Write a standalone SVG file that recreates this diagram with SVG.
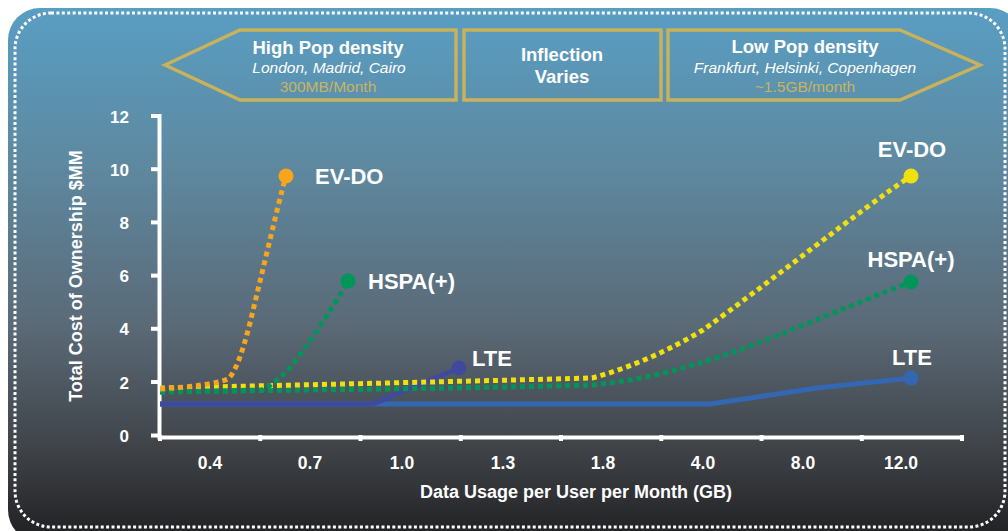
<svg xmlns="http://www.w3.org/2000/svg" width="1008" height="531" viewBox="0 0 1008 531">
  <defs>
    <linearGradient id="bg" x1="0" y1="0" x2="0" y2="1">
      <stop offset="0" stop-color="#599ec3"/>
      <stop offset="0.3" stop-color="#5e889f"/>
      <stop offset="0.6" stop-color="#5a6976"/>
      <stop offset="0.82" stop-color="#404449"/>
      <stop offset="1" stop-color="#1f1f21"/>
    </linearGradient>
    <style>
      text { font-family: "Liberation Sans", Arial, sans-serif; fill: #ffffff; }
      .hdr { font-size: 18.5px; font-weight: bold; text-anchor: middle; }
      .city { font-size: 15.5px; font-style: italic; text-anchor: middle; }
      .rate { font-size: 15.5px; fill: #c9b45e; text-anchor: middle; }
      .band { fill: none; stroke: #c8b25a; stroke-width: 3.5; stroke-linejoin: miter; }
      .ytick { font-size: 17px; font-weight: bold; text-anchor: end; }
      .xtick { font-size: 17.5px; font-weight: bold; text-anchor: middle; }
      .title { font-size: 18px; font-weight: bold; text-anchor: middle; }
      .series { font-size: 22px; font-weight: bold; }
      .axis { stroke: #ffffff; stroke-width: 4; fill: none; }
      .tick { stroke: #ffffff; stroke-width: 4; }
      .dots { fill: none; stroke-width: 5; stroke-dasharray: 5 4; stroke-linejoin: round; }
      .solid { fill: none; stroke-width: 5; stroke-linejoin: round; }
    </style>
  </defs>

  <!-- panel background -->
  <rect x="0" y="0" width="1008" height="531" fill="#ffffff"/>
  <rect x="8" y="8" width="1014" height="534" rx="32" fill="url(#bg)"/>
  <rect x="15" y="13" width="990" height="514" rx="36" fill="none" stroke="#ffffff" stroke-width="3" stroke-dasharray="3 2.4"/>

  <!-- density bands -->
  <g id="band-high">
    <polygon class="band" points="165,65 240,30 456,30 456,100 240,100"/>
    <text class="hdr" x="328" y="54">High Pop density</text>
    <text class="city" x="329" y="73">London, Madrid, Cairo</text>
    <text class="rate" x="328" y="92">300MB/Month</text>
  </g>
  <g id="band-mid">
    <rect class="band" x="464" y="30" width="197" height="70"/>
    <text class="hdr" x="562" y="61">Inflection</text>
    <text class="hdr" x="562" y="83">Varies</text>
  </g>
  <g id="band-low">
    <polygon class="band" points="668,30 900,30 980,65 900,100 668,100"/>
    <text class="hdr" x="805" y="53">Low Pop density</text>
    <text class="city" x="805" y="73">Frankfurt, Helsinki, Copenhagen</text>
    <text class="rate" x="805" y="92">~1.5GB/month</text>
  </g>

  <!-- axes -->
  <g id="axes">
    <path class="axis" d="M159.5,114 V437.5 H963"/>
    <g class="tick">
      <line x1="151" y1="116" x2="160" y2="116"/>
      <line x1="151" y1="169.2" x2="160" y2="169.2"/>
      <line x1="151" y1="222.4" x2="160" y2="222.4"/>
      <line x1="151" y1="275.6" x2="160" y2="275.6"/>
      <line x1="151" y1="328.8" x2="160" y2="328.8"/>
      <line x1="151" y1="382" x2="160" y2="382"/>
      <line x1="151" y1="435.5" x2="160" y2="435.5"/>
      <line x1="160" y1="435" x2="160" y2="441"/>
      <line x1="260.3" y1="435" x2="260.3" y2="441"/>
      <line x1="360.5" y1="435" x2="360.5" y2="441"/>
      <line x1="460.8" y1="435" x2="460.8" y2="441"/>
      <line x1="561" y1="435" x2="561" y2="441"/>
      <line x1="661.3" y1="435" x2="661.3" y2="441"/>
      <line x1="761.5" y1="435" x2="761.5" y2="441"/>
      <line x1="861.8" y1="435" x2="861.8" y2="441"/>
      <line x1="962" y1="435" x2="962" y2="441"/>
    </g>
    <text class="ytick" x="129" y="123">12</text>
    <text class="ytick" x="129" y="176">10</text>
    <text class="ytick" x="129" y="229">8</text>
    <text class="ytick" x="129" y="282">6</text>
    <text class="ytick" x="129" y="335">4</text>
    <text class="ytick" x="129" y="389">2</text>
    <text class="ytick" x="129" y="442">0</text>
    <text class="xtick" x="210" y="469">0.4</text>
    <text class="xtick" x="310" y="469">0.7</text>
    <text class="xtick" x="402" y="469">1.0</text>
    <text class="xtick" x="503" y="469">1.3</text>
    <text class="xtick" x="603" y="469">1.8</text>
    <text class="xtick" x="703" y="469">4.0</text>
    <text class="xtick" x="803" y="469">8.0</text>
    <text class="xtick" x="901" y="469">12.0</text>
    <text class="title" x="576" y="498">Data Usage per User per Month (GB)</text>
    <text class="title" transform="translate(82,276) rotate(-90)">Total Cost of Ownership $MM</text>
  </g>

  <!-- cost curves -->
  <g id="connectors">
    <path id="lte-low" class="solid" stroke="#3467b2" d="M160,404 L710,404 L817,388 L911,378"/>
    <path id="lte-high" class="solid" stroke="#3f4a9f" d="M160,404 L373,404 L459,368"/>
    <path id="hspa-low" class="dots" stroke="#00965a" d="M160,392 C300,390 480,388 592,385 C640,380 670,372 700,363 C760,345 850,305 911,282"/>
    <path id="evdo-low" class="dots" stroke="#f0e10c" d="M160,388 C300,385 480,381 592,378 C630,368 670,350 703,330 C770,282 860,210 911,176"/>
    <path id="hspa-high" class="dots" stroke="#00965a" d="M160,392 L262,390 C270,386 278,380 288,370 C305,350 330,312 348,281"/>
    <path id="evdo-high" class="dots" stroke="#f7a51c" d="M160,389 C190,387 215,384 228,379 C236,372 243,350 250,323 L268,248 C276,215 281,193 286,176"/>
  </g>

  <!-- series end points -->
  <g id="evdo-high-end">
    <circle cx="286" cy="176" r="7.5" fill="#f7a51c"/>
    <text class="series" x="315" y="184">EV-DO</text>
  </g>
  <g id="hspa-high-end">
    <circle cx="348" cy="281" r="7.5" fill="#00965a"/>
    <text class="series" x="368" y="289">HSPA(+)</text>
  </g>
  <g id="lte-high-end">
    <circle cx="459" cy="368" r="7.5" fill="#3f4a9f"/>
    <text class="series" x="472" y="366">LTE</text>
  </g>
  <g id="evdo-low-end">
    <circle cx="911" cy="176" r="7.5" fill="#f0e10c"/>
    <text class="series" x="912" y="157" text-anchor="middle">EV-DO</text>
  </g>
  <g id="hspa-low-end">
    <circle cx="911" cy="282" r="7.5" fill="#00965a"/>
    <text class="series" x="911" y="267" text-anchor="middle">HSPA(+)</text>
  </g>
  <g id="lte-low-end">
    <circle cx="911" cy="378" r="7.5" fill="#3467b2"/>
    <text class="series" x="912" y="365" text-anchor="middle">LTE</text>
  </g>
</svg>
